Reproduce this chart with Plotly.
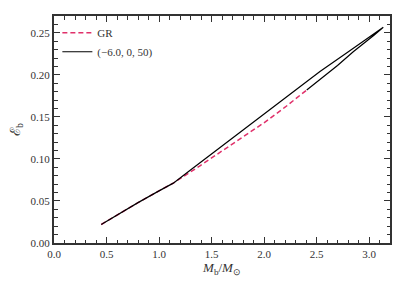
import plotly.graph_objects as go

gr_x = [0.45, 0.6, 0.8, 1.0, 1.136, 1.39, 1.55, 1.787, 2.0, 2.2, 2.407]
gr_y = [0.022, 0.0335, 0.048, 0.062, 0.0712, 0.0918, 0.105, 0.1246, 0.143, 0.1615, 0.182]

bl_x = [0.45, 0.6, 0.8, 1.0, 1.136, 1.3, 1.55, 1.771, 2.057, 2.533, 2.8, 3.136,
        3.05, 2.95, 2.85, 2.7, 2.533, 2.407]
bl_y = [0.022, 0.0335, 0.048, 0.062, 0.0712, 0.0868, 0.1106, 0.1316, 0.1588, 0.204, 0.2272, 0.2565,
        0.2475, 0.2375, 0.2275, 0.2112, 0.194, 0.182]

x_ticks = [0.0, 0.5, 1.0, 1.5, 2.0, 2.5, 3.0]
y_ticks = [0.00, 0.05, 0.10, 0.15, 0.20, 0.25]

font = "Liberation Serif"
fig = go.Figure()
fig.add_trace(go.Scatter(x=gr_x, y=gr_y, mode="lines", name="GR",
                         line=dict(color="#e0306a", width=1.5, dash="5px,3px")))
fig.add_trace(go.Scatter(x=bl_x, y=bl_y, mode="lines", name="(−6.0, 0, 50)",
                         line=dict(color="black", width=1.2)))

axis_common = dict(showline=True, linecolor="#333333", linewidth=2, mirror="allticks",
                   ticks="inside", ticklen=6, tickwidth=1.2, tickcolor="#333333",
                   showgrid=False, zeroline=False, automargin=False,
                   tickfont=dict(family=font, size=11, color="#333333"))

fig.update_xaxes(range=[0, 3.2], tickvals=x_ticks, ticktext=[f"{v:.1f}" for v in x_ticks],
                 minor=dict(dtick=0.1, tick0=0, ticks="inside", ticklen=3.5,
                            tickwidth=1, tickcolor="#333333", showgrid=False),
                 title=dict(text="<i>M</i><sub>b</sub>/<i>M</i><sub>⊙</sub>",
                            font=dict(family=font, size=13, color="#333333"), standoff=4),
                 **axis_common)
fig.update_yaxes(range=[0, 0.27], tickvals=y_ticks, ticktext=[f"{v:.2f}" for v in y_ticks],
                 minor=dict(dtick=0.01, tick0=0, ticks="inside", ticklen=3.5,
                            tickwidth=1, tickcolor="#333333", showgrid=False),
                 title=dict(text="ℰ<sub>b</sub>",
                            font=dict(family=font, size=14, color="#333333"), standoff=8),
                 **axis_common)

fig.update_layout(width=407, height=275, margin=dict(l=46, r=25, t=8, b=40),
                  plot_bgcolor="white", paper_bgcolor="white",
                  legend=dict(x=0.01, y=0.99, xanchor="left", yanchor="top",
                              bgcolor="rgba(0,0,0,0)", font=dict(family=font, size=11, color="#333333"),
                              itemwidth=30, tracegroupgap=0))
fig.write_html("out.html")
